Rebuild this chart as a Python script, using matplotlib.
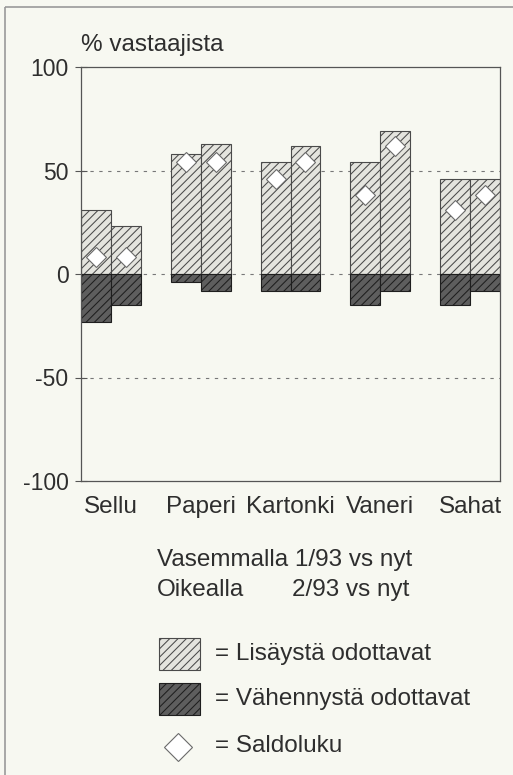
import matplotlib
matplotlib.use("Agg")
import matplotlib.pyplot as plt
import numpy as np
from matplotlib.patches import Rectangle

### data
categories = ["Sellu", "Paperi", "Kartonki", "Vaneri", "Sahat"]
lisays_vasen = [31, 58, 54, 54, 46]      # 1/93 vs nyt
lisays_oikea = [23, 63, 62, 69, 46]      # 2/93 vs nyt
vahennys_vasen = [-23, -4, -8, -15, -15]
vahennys_oikea = [-15, -8, -8, -8, -8]
saldo_vasen = [8, 54, 46, 38, 31]
saldo_oikea = [8, 54, 54, 62, 38]
yticks = [-100, -50, 0, 50, 100]

plt.rcParams['font.family'] = ['Liberation Sans', 'DejaVu Sans']
plt.rcParams['hatch.linewidth'] = 0.75
bg = '#f7f8f1'
txt = '#2e2e2e'
light_face = '#e4e4de'
light_edge = '#4a4a4a'
dark_face = '#5e5e5e'
dark_edge = '#1e1e1e'
fs = 17.5

fig = plt.figure(figsize=(5.13, 7.75), dpi=100, facecolor=bg)
ax = fig.add_axes([81/513, 1-481/775, 419/513, 414/775])
ax.set_facecolor(bg)

x = np.arange(len(categories))
w = 1/3
###grid first so the bars sit on top
for g in [50, 0, -50]:
    ax.axhline(g, color='#777777', lw=0.8, ls=(0, (3, 5)), zorder=0)

ax.bar(x - w/2, lisays_vasen, w, color=light_face, edgecolor=light_edge, hatch='////', lw=0.8, zorder=2)
ax.bar(x + w/2, lisays_oikea, w, color=light_face, edgecolor=light_edge, hatch='////', lw=0.8, zorder=2)
ax.bar(x - w/2, vahennys_vasen, w, color=dark_face, edgecolor=dark_edge, hatch='////', lw=0.8, zorder=2)
ax.bar(x + w/2, vahennys_oikea, w, color=dark_face, edgecolor=dark_edge, hatch='////', lw=0.8, zorder=2)
ax.plot(x - w/2, saldo_vasen, ls='none', marker='D', ms=10, mfc='white', mec='#6a6a6a', mew=0.8, zorder=3)
ax.plot(x + w/2, saldo_oikea, ls='none', marker='D', ms=10, mfc='white', mec='#6a6a6a', mew=0.8, zorder=3)

ax.set_xlim(-w, len(categories) - 1 + w)
ax.set_ylim(-100, 100)
ax.set_yticks(yticks)
ax.set_yticklabels([str(v) for v in yticks])
ax.set_xticks(x)
ax.set_xticklabels(categories)
ax.tick_params(axis='y', direction='inout', length=9, width=0.8, color='#555555', labelsize=16.5, labelcolor=txt, pad=4.5)
ax.tick_params(axis='x', length=0, labelsize=fs, labelcolor=txt, pad=23)
for lbl in ax.get_xticklabels():
    lbl.set_verticalalignment('baseline')  # keep "Paperi" on the same line as the others
for s in ax.spines.values():
    s.set_color('#555555')
    s.set_linewidth(0.9)

###overlay in pixel coords for the texts and the legend
ov = fig.add_axes([0, 0, 1, 1], zorder=-1)
ov.set_xlim(0, 513)
ov.set_ylim(775, 0)
ov.axis('off')
ov.add_patch(Rectangle((5, 7), 510, 800, fill=False, ec='#9a9a9a', lw=1.2))
ov.text(81, 45, "% vastaajista", fontsize=fs, color=txt, va='center', ha='left')
ov.text(157, 560, "Vasemmalla 1/93 vs nyt", fontsize=fs, color=txt, va='center')
ov.text(157, 590, "Oikealla", fontsize=fs, color=txt, va='center')
ov.text(292, 590, "2/93 vs nyt", fontsize=fs, color=txt, va='center')

ov.add_patch(Rectangle((159, 638), 41, 32, fc=light_face, ec=light_edge, hatch='////', lw=0.8))
ov.add_patch(Rectangle((159, 683), 41, 32, fc=dark_face, ec=dark_edge, hatch='////', lw=0.8))
ov.plot([178], [747], ls='none', marker='D', ms=14, mfc='white', mec='#6a6a6a', mew=0.8)
ov.text(215, 654, "= Lisäystä odottavat", fontsize=fs, color=txt, va='center')
ov.text(215, 699, "= Vähennystä odottavat", fontsize=fs, color=txt, va='center')
ov.text(215, 746, "= Saldoluku", fontsize=fs, color=txt, va='center')

fig.savefig("out.png", dpi=100, facecolor=bg)
